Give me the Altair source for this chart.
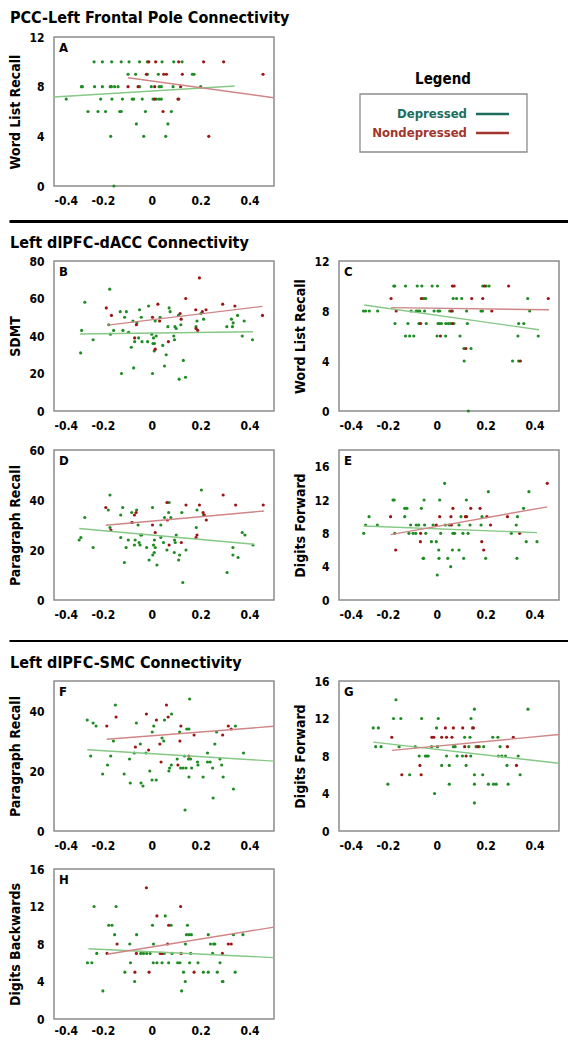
import altair as alt
import pandas as pd

FONT = "'DejaVu Sans Condensed', 'DejaVu Sans', sans-serif"
DEP_PT = "#1e8c23"
ND_PT = "#9c1414"
DEP_LN = "#86c886"
ND_LN = "#cf8686"

# ---------------- Panel A: PCC-Left Frontal Pole vs Word List Recall ----------------
A_dep_x = [-0.236, -0.202, -0.164, -0.125, -0.093, -0.050, -0.018, 0.042, 0.090, 0.124,
           -0.097, -0.066, -0.018, 0.027, 0.166, 0.173,
           -0.288, -0.284, -0.234, -0.202, -0.170, -0.165, -0.152, -0.138, -0.050, -0.002, 0.030, 0.039, 0.087, 0.200,
           -0.350, -0.209, -0.163, -0.120, -0.080, -0.074, -0.039, 0.005, 0.019, 0.030, 0.039, 0.111,
           -0.261, -0.220, -0.189, -0.131, -0.125, -0.026, 0.080,
           -0.063, 0.066,
           -0.168, -0.033, 0.057,
           -0.155]
A_dep_y = [10] * 10 + [9] * 6 + [8] * 14 + [7] * 12 + [6] * 7 + [5] * 2 + [4] * 3 + [0]
A_nd_x = [-0.012, 0.016, 0.110, 0.212, 0.294,
          -0.022, 0.049, 0.060, 0.125, 0.455,
          -0.097, -0.056, 0.012, 0.118,
          0.012, 0.107,
          0.046,
          0.233]
A_nd_y = [10] * 5 + [9] * 5 + [8] * 4 + [7] * 2 + [6] + [4]
A_line_dep = [-0.4, 7.17, 0.339, 8.05]
A_line_nd = [-0.097, 8.72, 0.5, 7.11]

# ---------------- Panel B: dlPFC-dACC vs SDMT ----------------
B_dep_x = [-0.291, -0.274, -0.287, -0.240, -0.172, -0.176, -0.169, -0.156, -0.129, -0.124, -0.118, -0.111, -0.104,
           -0.095, -0.084, -0.077, -0.074, -0.070, -0.061, -0.054, -0.050, -0.043, -0.040, -0.017, -0.013, 0.000,
           0.003, 0.005, 0.007, 0.010, 0.011, 0.014, 0.018, 0.034, 0.045, 0.052, 0.059, 0.066, 0.071, 0.075, 0.090,
           0.093, 0.095, 0.100, 0.109, 0.112, 0.119, 0.129, 0.138, 0.181, 0.185, 0.201, 0.212, 0.307, 0.326, 0.330,
           0.333, 0.351, 0.370, 0.378, 0.412]
B_dep_y = [31, 58, 43, 38, 65, 46, 41, 43, 53, 20, 43, 50, 53,
           42, 34, 48, 23, 37, 47, 39, 54, 50, 37, 37, 56, 41,
           20, 36, 39, 32, 36, 48, 40, 50, 35, 24, 30, 45, 55, 53, 40,
           38, 45, 44, 51, 17, 46, 27, 18, 45, 48, 52, 49, 45, 49, 45,
           47, 51, 40, 48, 38]
B_nd_x = [-0.186, -0.165, -0.070, -0.063, 0.003, 0.014, 0.025, 0.032, 0.068, 0.116, 0.120, 0.139, 0.180, 0.181,
          0.188, 0.195, 0.207, 0.222, 0.290, 0.340, 0.453]
B_nd_y = [55, 51, 39, 46, 50, 33, 57, 48, 37, 52, 49, 60, 54, 44,
          43, 71, 53, 54, 57, 56, 51]
B_line_dep = [-0.294, 41.1, 0.414, 42.3]
B_line_nd = [-0.180, 45.8, 0.453, 55.8]

# ---------------- Panel C: dlPFC-dACC vs Word List Recall ----------------
C_dep_x = [-0.176, -0.172, -0.128, -0.080, -0.061, -0.019, 0.003, 0.188, 0.202, 0.214,
           -0.056, -0.050, -0.045, 0.067, 0.081, 0.102, 0.372,
           -0.300, -0.291, -0.276, -0.242, -0.105, -0.084, -0.077, -0.070, -0.050, -0.011, 0.005, 0.012, 0.053,
           0.064, 0.122, 0.181, 0.187, 0.380,
           -0.171, -0.118, -0.073, -0.043, 0.005, 0.012, 0.019, 0.037, 0.047, 0.056, 0.070, 0.125, 0.335, 0.356,
           -0.128, -0.111, -0.094, 0.001, 0.036, 0.095, 0.332, 0.415,
           0.111, 0.140,
           0.112, 0.310, 0.335,
           0.129]
C_dep_y = [10] * 10 + [9] * 7 + [8] * 18 + [7] * 14 + [6] * 8 + [5] * 2 + [4] * 3 + [0]
C_nd_x = [0.064, 0.071, 0.195, 0.294,
          -0.187, -0.063, 0.143, 0.188, 0.456,
          -0.166, 0.060, 0.225,
          -0.066, 0.064,
          0.015,
          0.119,
          0.342]
C_nd_y = [10] * 4 + [9] * 5 + [8] * 3 + [7] * 2 + [6] + [5] + [4]
C_line_dep = [-0.297, 8.48, 0.418, 6.5]
C_line_nd = [-0.187, 8.27, 0.459, 8.1]

# ---------------- Panel D: dlPFC-dACC vs Paragraph Recall ----------------
D_dep_x = [-0.297, -0.290, -0.274, -0.240, -0.171, -0.178, -0.171, -0.127, -0.119, -0.127, -0.105, -0.112, -0.096,
           -0.082, -0.079, -0.071, -0.068, -0.062, -0.056, -0.052, -0.048, -0.045, -0.041, -0.021, -0.011, 0.003,
           0.004, 0.007, 0.010, 0.011, 0.014, 0.021, 0.037, 0.037, 0.048, 0.052, 0.062, 0.069, 0.071, 0.078, 0.092,
           0.093, 0.096, 0.100, 0.110, 0.114, 0.123, 0.127, 0.140, 0.185, 0.182, 0.203, 0.212, 0.308, 0.332, 0.332,
           0.353, 0.370, 0.381, 0.414]
D_dep_y = [24, 25, 33, 21, 42, 36, 29, 34, 37, 25, 21, 15, 24,
           35, 31, 22, 24, 36, 30, 23, 22, 26, 26, 21, 16, 37,
           18, 22, 19, 24, 21, 14, 30, 25, 23, 33, 20, 35, 39, 33, 19,
           24, 23, 26, 16, 18, 35, 7, 20, 36, 29, 44, 34, 11, 21, 18,
           17, 27, 26, 22]
D_nd_x = [-0.188, -0.167, -0.082, -0.071, -0.064, 0.003, 0.014, 0.062, 0.064, 0.071, 0.121, 0.140, 0.181, 0.185,
          0.195, 0.210, 0.215, 0.223, 0.292, 0.343, 0.456]
D_nd_y = [37, 28, 31, 34, 35, 30, 27, 39, 32, 22, 23, 38, 25, 26,
          38, 35, 34, 32, 42, 38, 38]
D_line_dep = [-0.297, 28.6, 0.418, 22.3]
D_line_nd = [-0.188, 29.9, 0.459, 35.6]

# ---------------- Panel E: dlPFC-dACC vs Digits Forward ----------------
E_dep_x = [-0.299, -0.291, -0.277, -0.243, -0.179, -0.174, -0.172, -0.131, -0.122, -0.131, -0.114, -0.107, -0.097,
           -0.086, -0.084, -0.074, -0.063, -0.056, -0.054, -0.052, -0.050, -0.045, -0.022, -0.015, -0.002, 0.002,
           0.008, 0.009, 0.012, 0.016, 0.032, 0.035, 0.045, 0.051, 0.057, 0.064, 0.066, 0.073, 0.091, 0.091, 0.099,
           0.107, 0.110, 0.121, 0.128, 0.136, 0.181, 0.185, 0.200, 0.211, 0.305, 0.325, 0.330, 0.328, 0.355, 0.366,
           0.377, 0.410]
E_dep_y = [8, 9, 10, 9, 12, 12, 8, 11, 11, 10, 8, 9, 8,
           8, 9, 9, 11, 5, 5, 12, 9, 8, 7, 9, 7, 3,
           6, 5, 12, 8, 14, 9, 5, 9, 4, 6, 8, 8, 9, 6, 10,
           8, 5, 12, 8, 9, 9, 10, 5, 13, 8, 9, 10, 5, 11, 7,
           13, 7]
E_nd_x = [-0.189, -0.168, -0.066, -0.067, -0.002, 0.012, 0.058, 0.066, 0.060, 0.117, 0.122, 0.139, 0.177, 0.184,
          0.192, 0.205, 0.220, 0.289, 0.339, 0.452]
E_nd_y = [10, 6, 8, 7, 9, 10, 10, 11, 9, 10, 10, 11, 11, 7,
          6, 10, 9, 10, 8, 14]
E_line_dep = [-0.299, 8.88, 0.410, 8.08]
E_line_nd = [-0.189, 7.84, 0.452, 11.18]

# ---------------- Panel F: dlPFC-SMC vs Paragraph Recall ----------------
F_dep_x = [-0.264, -0.250, -0.240, -0.228, -0.201, -0.181, -0.168, -0.157, -0.149, -0.113, -0.091, -0.088, -0.072,
           -0.063, -0.047, -0.044, -0.036, -0.024, -0.008, 0.001, 0.002, 0.008, 0.018, 0.042, 0.049, 0.052, 0.070,
           0.073, 0.080, 0.081, 0.104, 0.114, 0.118, 0.128, 0.134, 0.136, 0.140, 0.143, 0.152, 0.150, 0.152, 0.155,
           0.159, 0.163, 0.187, 0.189, 0.210, 0.228, 0.228, 0.239, 0.249, 0.251, 0.258, 0.265, 0.279, 0.286, 0.292,
           0.334, 0.342, 0.375]
F_dep_y = [37, 25, 36, 35, 19, 22, 25, 30, 42, 19, 24, 16, 26,
           36, 29, 16, 15, 26, 20, 17, 33, 35, 17, 31, 30, 37, 20,
           21, 22, 39, 24, 33, 21, 21, 25, 7, 21, 34, 34, 24, 18, 44,
           24, 21, 23, 22, 18, 26, 23, 23, 21, 11, 29, 33, 24, 22, 18,
           14, 35, 26]
F_nd_x = [-0.184, -0.146, -0.067, -0.022, -0.013, 0.019, 0.033, 0.038, 0.060, 0.067, 0.107, 0.115, 0.119, 0.152,
          0.173, 0.290, 0.313, 0.325]
F_nd_y = [35, 38, 28, 39, 27, 37, 29, 23, 42, 38, 22, 30, 35, 25,
          32, 32, 35, 34]
F_line_dep = [-0.264, 27.1, 0.5, 23.3]
F_line_nd = [-0.184, 30.6, 0.5, 34.9]

# ---------------- Panel G: dlPFC-SMC vs Digits Forward ----------------
G_dep_x = [-0.260, -0.250, -0.239, -0.228, -0.200, -0.177, -0.167, -0.154, -0.147, -0.111, -0.088, -0.072, -0.062,
           -0.047, -0.040, -0.035, -0.021, -0.009, -0.001, 0.003, 0.006, 0.020, 0.040, 0.051, 0.051, 0.068, 0.075,
           0.083, 0.105, 0.114, 0.120, 0.131, 0.136, 0.139, 0.140, 0.146, 0.154, 0.154, 0.154, 0.154, 0.161, 0.174,
           0.188, 0.192, 0.211, 0.229, 0.232, 0.243, 0.250, 0.252, 0.259, 0.266, 0.281, 0.287, 0.292, 0.333, 0.341,
           0.373]
G_dep_y = [11, 9, 11, 9, 5, 12, 14, 9, 12, 6, 9, 8, 12,
           8, 8, 8, 9, 4, 11, 9, 12, 7, 8, 7, 5, 9, 9,
           8, 8, 10, 7, 9, 10, 8, 12, 11, 13, 6, 5, 3, 9, 9,
           6, 9, 5, 10, 5, 5, 10, 8, 9, 8, 8, 7, 5, 8, 6,
           13]
G_nd_x = [-0.184, -0.143, -0.069, -0.064, -0.020, -0.012, 0.020, 0.035, 0.040, 0.062, 0.068, 0.106, 0.114, 0.120,
          0.150, 0.168, 0.289, 0.313, 0.326]
G_nd_y = [10, 6, 7, 6, 10, 10, 10, 11, 10, 10, 11, 11, 9, 8,
          11, 9, 9, 10, 7]
G_line_dep = [-0.260, 9.48, 0.5, 7.22]
G_line_nd = [-0.184, 8.6, 0.5, 10.29]

# ---------------- Panel H: dlPFC-SMC vs Digits Backwards ----------------
H_dep_x = [-0.263, -0.245, -0.236, -0.225, -0.200, -0.176, -0.163, -0.152, -0.146, -0.110, -0.090, -0.087, -0.070,
           -0.062, -0.045, -0.034, -0.021, -0.007, 0.003, 0.006, 0.007, 0.021, 0.042, 0.051, 0.055, 0.069, 0.079,
           0.083, 0.106, 0.115, 0.122, 0.130, 0.137, 0.138, 0.142, 0.146, 0.152, 0.162, 0.155, 0.159, 0.189, 0.211,
           0.231, 0.231, 0.240, 0.253, 0.258, 0.249, 0.268, 0.279, 0.289, 0.291, 0.334, 0.341, 0.373]
H_dep_y = [6, 6, 12, 7, 3, 10, 10, 9, 12, 5, 8, 6, 4,
           9, 7, 7, 7, 7, 10, 6, 8, 6, 6, 7, 11, 6, 10,
           7, 6, 6, 3, 5, 4, 8, 9, 10, 9, 9, 6, 7, 6, 5,
           5, 9, 8, 8, 8, 7, 5, 6, 4, 4, 9, 5, 9]
H_nd_x = [-0.183, -0.142, -0.069, -0.063, -0.022, -0.011, 0.021, 0.035, 0.042, 0.065, 0.069, 0.118, 0.120, 0.173,
          0.289, 0.313, 0.325]
H_nd_y = [7, 8, 5, 7, 14, 5, 11, 7, 7, 8, 10, 12, 7, 5,
          7, 8, 8]
H_line_dep = [-0.259, 7.5, 0.5, 6.55]
H_line_nd = [-0.183, 6.9, 0.5, 9.8]

SECTION_TITLES = ["PCC-Left Frontal Pole Connectivity", "Left dlPFC-dACC Connectivity", "Left dlPFC-SMC Connectivity"]
LEGEND_LABELS = ["Depressed", "Nondepressed"]
LEGEND_COLORS = ["#1b6e5e", "#a3352c"]
X_TICKS = [-0.4, -0.2, 0, 0.2, 0.4]

PW = 220  # panel width
PH = 150  # panel height


def blank(h, w=PW):
    return (alt.Chart(pd.DataFrame({"t": [" "]}))
            .mark_text(fontSize=1, opacity=0)
            .encode(text="t:N", x=alt.value(5), y=alt.value(5))
            .properties(width=w, height=h))


def section(title, h, rule_y, title_y):
    base = alt.Chart(pd.DataFrame({"t": [title]}))
    layers = []
    if rule_y is not None:
        layers.append(base.mark_rule(color="black", strokeWidth=rule_y[1])
                      .encode(x=alt.value(-44.5), x2=alt.value(514), y=alt.value(rule_y[0])))
    layers.append(base.mark_text(align="left", baseline="middle", font=FONT, fontSize=16,
                                 fontWeight="bold", color="black")
                  .encode(text="t:N", x=alt.value(-44), y=alt.value(title_y)))
    return alt.layer(*layers).properties(width=PW, height=h)


def panel(letter, dx, dy, nx, ny, ldep, lnd, ydom, yticks, ytitle, h=PH, xpad=9):
    xs = alt.Scale(domain=[-0.4, 0.5], nice=False, zero=False)
    ys = alt.Scale(domain=ydom, nice=False, zero=False)
    xax = alt.Axis(values=X_TICKS, grid=False, domain=False, ticks=False, tickSize=0, labelPadding=xpad,
                   labelFont=FONT, labelFontSize=12, labelFontWeight="bold", labelColor="black",
                   labelExpr="datum.value == 0 ? '0' : (datum.value < 0 ? '-' + format(-datum.value, '.1f') : format(datum.value, '.1f'))",
                   title=None)
    yax = alt.Axis(values=yticks, grid=False, domain=False, ticks=False, tickSize=0, labelPadding=10,
                   labelFont=FONT, labelFontSize=12, labelFontWeight="bold", labelColor="black", format="d",
                   title=ytitle, titleFont=FONT, titleFontSize=14, titleFontWeight="bold", titleColor="black",
                   titlePadding=6)
    dep = pd.DataFrame({"x": dx, "y": dy})
    nd = pd.DataFrame({"x": nx, "y": ny})
    lines = pd.DataFrame({"x1": [ldep[0], lnd[0]], "y1": [ldep[1], lnd[1]],
                          "x2": [ldep[2], lnd[2]], "y2": [ldep[3], lnd[3]],
                          "g": LEGEND_LABELS})
    p_dep = alt.Chart(dep).mark_circle(size=10, opacity=1, color=DEP_PT).encode(
        x=alt.X("x:Q", scale=xs, axis=xax), y=alt.Y("y:Q", scale=ys, axis=yax))
    p_nd = alt.Chart(nd).mark_circle(size=10, opacity=1, color=ND_PT).encode(
        x=alt.X("x:Q", scale=xs, axis=xax), y=alt.Y("y:Q", scale=ys, axis=yax))
    ln = alt.Chart(lines).mark_rule(strokeWidth=1.4, clip=True).encode(
        x=alt.X("x1:Q", scale=xs, axis=xax), y=alt.Y("y1:Q", scale=ys, axis=yax),
        x2="x2:Q", y2="y2:Q",
        color=alt.Color("g:N", scale=alt.Scale(domain=LEGEND_LABELS, range=[DEP_LN, ND_LN]), legend=None))
    lab = alt.Chart(pd.DataFrame({"t": [letter]})).mark_text(
        align="left", baseline="middle", font=FONT, fontSize=13, fontWeight="bold", color="black").encode(
        text="t:N", x=alt.value(5), y=alt.value(11))
    return alt.layer(p_dep, p_nd, ln, lab).properties(
        width=PW, height=h, view=alt.ViewBackground(stroke="#8c8c8c", strokeWidth=1.5))


def legend_cell(h):
    base = alt.Chart(pd.DataFrame({"t": ["Legend"]}))
    box = base.mark_rect(fill="white", stroke="#8c8c8c", strokeWidth=1.3).encode(
        x=alt.value(21), x2=alt.value(188), y=alt.value(57), y2=alt.value(115))
    ttl = base.mark_text(align="center", baseline="middle", font=FONT, fontSize=15, fontWeight="bold",
                         color="black").encode(text="t:N", x=alt.value(104), y=alt.value(42))
    layers = [box, ttl]
    for lab, col, yy in zip(LEGEND_LABELS, LEGEND_COLORS, [77, 96]):
        d = alt.Chart(pd.DataFrame({"lab": [lab]}))
        layers.append(d.mark_text(align="right", baseline="middle", font=FONT, fontSize=13,
                                  fontWeight="bold", color=col)
                      .encode(text="lab:N", x=alt.value(128), y=alt.value(yy)))
        layers.append(d.mark_rule(strokeWidth=2.5, color=col)
                      .encode(x=alt.value(137), x2=alt.value(170), y=alt.value(yy)))
    return alt.layer(*layers).properties(width=PW, height=h)


A = panel("A", A_dep_x, A_dep_y, A_nd_x, A_nd_y, A_line_dep, A_line_nd, [0, 12], [0, 4, 8, 12], "Word List Recall", h=149)
B = panel("B", B_dep_x, B_dep_y, B_nd_x, B_nd_y, B_line_dep, B_line_nd, [0, 80], [0, 20, 40, 60, 80], "SDMT")
C = panel("C", C_dep_x, C_dep_y, C_nd_x, C_nd_y, C_line_dep, C_line_nd, [0, 12], [0, 4, 8, 12], "Word List Recall")
D = panel("D", D_dep_x, D_dep_y, D_nd_x, D_nd_y, D_line_dep, D_line_nd, [0, 60], [0, 20, 40, 60], "Paragraph Recall")
E = panel("E", E_dep_x, E_dep_y, E_nd_x, E_nd_y, E_line_dep, E_line_nd, [0, 18], [0, 4, 8, 12, 16], "Digits Forward")
F = panel("F", F_dep_x, F_dep_y, F_nd_x, F_nd_y, F_line_dep, F_line_nd, [0, 50], [0, 20, 40], "Paragraph Recall")
G = panel("G", G_dep_x, G_dep_y, G_nd_x, G_nd_y, G_line_dep, G_line_nd, [0, 16], [0, 4, 8, 12, 16], "Digits Forward")
H = panel("H", H_dep_x, H_dep_y, H_nd_x, H_nd_y, H_line_dep, H_line_nd, [0, 16], [0, 4, 8, 12, 16], "Digits Backwards",
          xpad=6)

cells = [
    section(SECTION_TITLES[0], 29, None, 10), blank(29),
    A, legend_cell(149),
    section(SECTION_TITLES[1], 75, (35.5, 3), 56.5), blank(75),
    B, C,
    blank(39), blank(39),
    D, E,
    section(SECTION_TITLES[2], 81, (41, 2.2), 62.5), blank(81),
    F, G,
    blank(38), blank(38),
    H, blank(PH),
]

chart = alt.concat(*cells, columns=2, spacing={"row": 0, "column": 65}, bounds="flush", align="each",
                   padding=0).configure(font=FONT, view=alt.ViewConfig(stroke=None))

chart.save("out.html", embed_options={"renderer": "svg", "actions": False})
